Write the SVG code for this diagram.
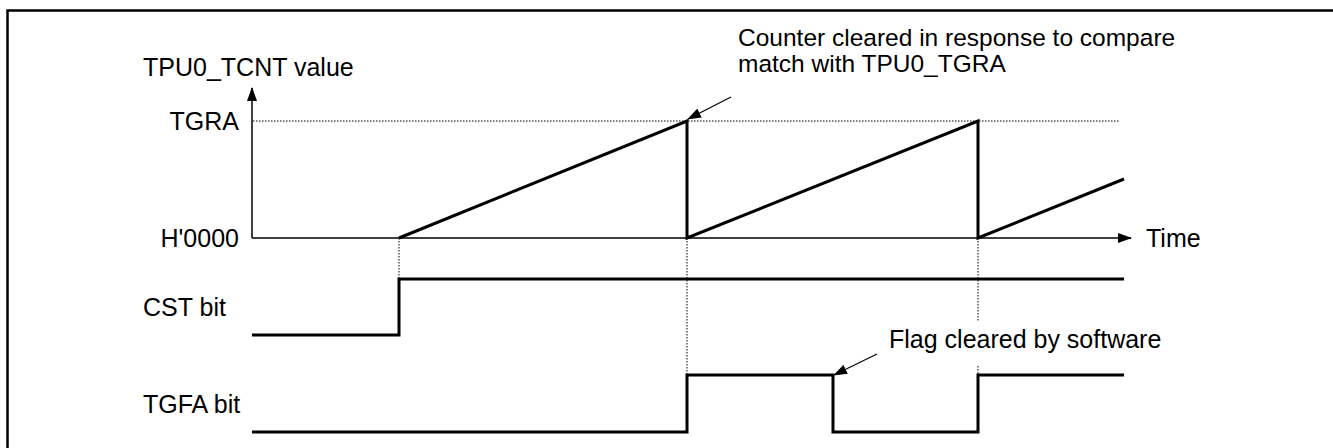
<svg xmlns="http://www.w3.org/2000/svg" width="1333" height="448" viewBox="0 0 1333 448">
<style>
text{font-family:"Liberation Sans",Arial,sans-serif;font-size:25px;fill:#000}
.note{font-size:24.5px}
.frame{fill:none;stroke:#000;stroke-width:2.5}
.axis{fill:none;stroke:#000;stroke-width:1.5}
.wave{fill:none;stroke:#000;stroke-width:3;stroke-linejoin:miter}
.dot{fill:none;stroke:#000;stroke-width:1;stroke-dasharray:1.5 1.5}
.lead{fill:none;stroke:#000;stroke-width:1.2}
</style>
<defs>
<marker id="ah" markerWidth="14" markerHeight="10" refX="13" refY="5" orient="auto" markerUnits="userSpaceOnUse">
<path d="M0,0 L14,5 L0,10 Z" fill="#000"/>
</marker>
</defs>
<rect class="frame" x="7.5" y="10.5" width="1400" height="500"/>
<g id="axes">
<line class="axis" x1="252" y1="238" x2="252" y2="88" marker-end="url(#ah)"/>
<line class="axis" x1="252" y1="238" x2="1131" y2="238" marker-end="url(#ah)"/>
<text x="143" y="76">TPU0_TCNT value</text>
<text x="239" y="130" text-anchor="end">TGRA</text>
<text x="239" y="247" text-anchor="end">H'0000</text>
<text x="1146" y="247">Time</text>
</g>
<g id="guides">
<line class="dot" x1="253" y1="121" x2="1120" y2="121"/>
<line class="dot" x1="399" y1="238" x2="399" y2="279"/>
<line class="dot" x1="687" y1="238" x2="687" y2="375"/>
<line class="dot" x1="978" y1="238" x2="978" y2="321"/>
<line class="dot" x1="978" y1="366" x2="978" y2="375"/>
</g>
<g id="tcnt">
<polyline class="wave" points="399,238 687,121 687,238 978,121 978,238 1124,179"/>
</g>
<g id="cst">
<text x="143" y="316">CST bit</text>
<polyline class="wave" points="252,335 399,335 399,279 1124,279"/>
</g>
<g id="tgfa">
<text x="143" y="413">TGFA bit</text>
<polyline class="wave" points="252,432 687,432 687,375 833,375 833,432 978,432 978,375 1124,375"/>
</g>
<g id="connectors">
<line class="lead" x1="731" y1="97" x2="688" y2="119" marker-end="url(#ah)"/>
<line class="lead" x1="877" y1="354" x2="834" y2="375" marker-end="url(#ah)"/>
</g>
<g id="notes">
<text class="note" x="738" y="46">Counter cleared in response to compare</text>
<text class="note" x="738" y="72">match with TPU0_TGRA</text>
<text x="889" y="348">Flag cleared by software</text>
</g>
</svg>
